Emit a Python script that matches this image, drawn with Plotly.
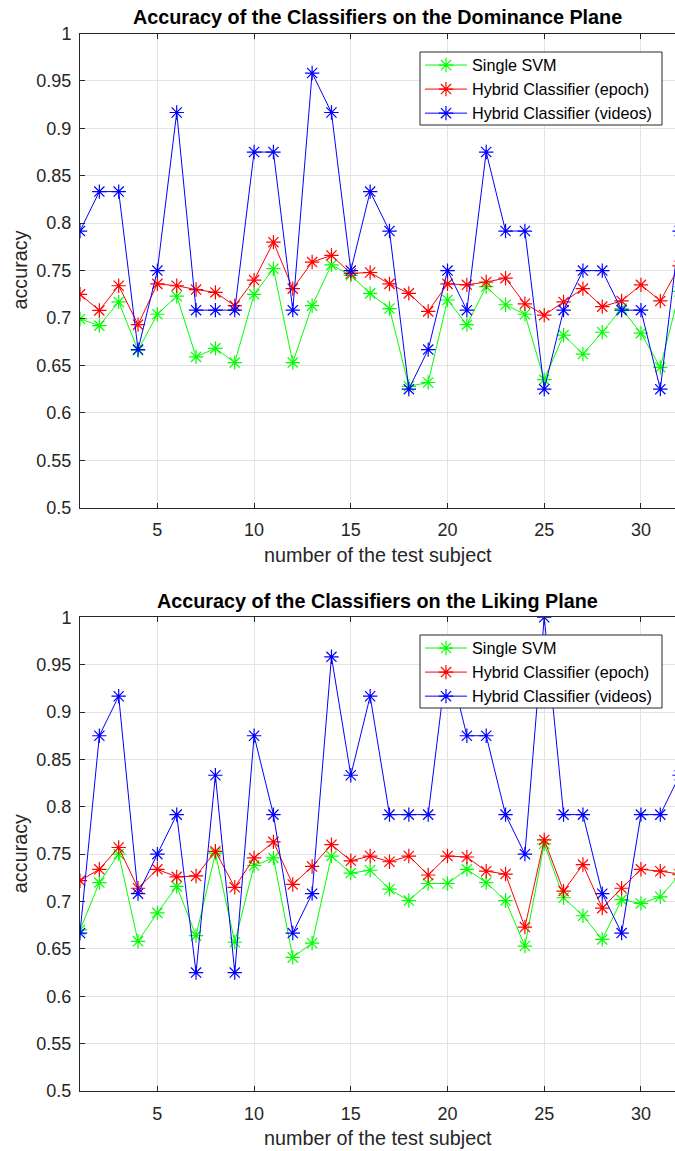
import plotly.graph_objects as go

subjects = list(range(1, 33))

dom_svm = [0.699, 0.692, 0.717, 0.666, 0.704, 0.723, 0.659, 0.668, 0.653, 0.725, 0.752, 0.653,
           0.713, 0.756, 0.745, 0.726, 0.710, 0.628, 0.632, 0.719, 0.693, 0.733, 0.714, 0.704,
           0.635, 0.682, 0.662, 0.685, 0.710, 0.684, 0.648, 0.728]
dom_epoch = [0.725, 0.708, 0.734, 0.693, 0.736, 0.734, 0.730, 0.727, 0.713, 0.740, 0.780, 0.731,
             0.759, 0.766, 0.747, 0.748, 0.736, 0.726, 0.707, 0.736, 0.735, 0.738, 0.742, 0.715,
             0.703, 0.717, 0.731, 0.712, 0.718, 0.735, 0.718, 0.755]
dom_videos = [0.7917, 0.8333, 0.8333, 0.6667, 0.75, 0.9167, 0.7083, 0.7083, 0.7083, 0.875, 0.875, 0.7083,
              0.9583, 0.9167, 0.75, 0.8333, 0.7917, 0.625, 0.6667, 0.75, 0.7083, 0.875, 0.7917, 0.7917,
              0.625, 0.7083, 0.75, 0.75, 0.7083, 0.7083, 0.625, 0.7917]

lik_svm = [0.670, 0.720, 0.750, 0.658, 0.688, 0.716, 0.664, 0.751, 0.657, 0.738, 0.746, 0.641,
           0.656, 0.748, 0.730, 0.733, 0.713, 0.701, 0.719, 0.719, 0.734, 0.720, 0.701, 0.653,
           0.761, 0.704, 0.685, 0.660, 0.702, 0.698, 0.705, 0.728]
lik_epoch = [0.722, 0.734, 0.757, 0.714, 0.734, 0.726, 0.727, 0.753, 0.715, 0.746, 0.763, 0.718,
             0.737, 0.760, 0.743, 0.748, 0.742, 0.748, 0.728, 0.748, 0.747, 0.732, 0.729, 0.673,
             0.765, 0.711, 0.739, 0.693, 0.714, 0.734, 0.732, 0.729]
lik_videos = [0.6667, 0.875, 0.9167, 0.7083, 0.75, 0.7917, 0.625, 0.8333, 0.625, 0.875, 0.7917, 0.6667,
              0.7083, 0.9583, 0.8333, 0.9167, 0.7917, 0.7917, 0.7917, 0.9583, 0.875, 0.875, 0.7917, 0.75,
              1.0, 0.7917, 0.7917, 0.7083, 0.6667, 0.7917, 0.7917, 0.8333]

series_names = ["Single SVM", "Hybrid Classifier (epoch)", "Hybrid Classifier (videos)"]
series_colors = ["#00FF00", "#FF0000", "#0000FF"]

titles = ["Accuracy of the Classifiers on the Dominance Plane",
          "Accuracy of the Classifiers on the Liking Plane"]
x_label = "number of the test subject"
y_label = "accuracy"
y_tickvals = [0.5, 0.55, 0.6, 0.65, 0.7, 0.75, 0.8, 0.85, 0.9, 0.95, 1.0]
y_ticktext = ["0.5", "0.55", "0.6", "0.65", "0.7", "0.75", "0.8", "0.85", "0.9", "0.95", "1"]
x_tickvals = [5, 10, 15, 20, 25, 30]

W, H = 675, 1151
L = 80
PW = W - L
FONT = "Liberation Sans, Arial, Helvetica, sans-serif"
AX = "#262626"

def px_x(px):
    return (px - L) / PW

def px_y(py):
    return 1 - py / H

fig = go.Figure()

panels = [
    (dict(x="x", y="y", legend="legend"), [dom_svm, dom_epoch, dom_videos]),
    (dict(x="x2", y="y2", legend="legend2"), [lik_svm, lik_epoch, lik_videos]),
]
for refs, data in panels:
    for name, col, vals in zip(series_names, series_colors, data):
        fig.add_trace(go.Scatter(
            x=subjects, y=vals, name=name, mode="lines+markers",
            xaxis=refs["x"], yaxis=refs["y"], legend=refs["legend"],
            line=dict(color=col, width=1),
            marker=dict(symbol="asterisk", size=12, color=col, line=dict(color=col, width=1.2)),
        ))

boxes = [(33.5, 507.7), (617.3, 1091.0)]
dom = [[px_y(b), px_y(t)] for t, b in boxes]

def xax(anchor):
    return dict(range=[1, 31.76], tickvals=x_tickvals, showgrid=True, gridcolor="#e3e3e3", gridwidth=1,
                zeroline=False, showline=True, linecolor=AX, linewidth=1, mirror="ticks",
                ticks="inside", ticklen=5, tickcolor=AX, anchor=anchor, domain=[0, 1], automargin=False,
                tickfont=dict(family=FONT, size=18, color=AX), ticklabelstandoff=6)

def yax(anchor, d):
    return dict(range=[0.5, 1], tickvals=y_tickvals, ticktext=y_ticktext, showgrid=True,
                gridcolor="#e3e3e3", gridwidth=1, zeroline=False, showline=True, linecolor=AX,
                linewidth=1, ticks="inside", ticklen=5, tickcolor=AX, anchor=anchor, domain=d,
                automargin=False,
                tickfont=dict(family=FONT, size=18, color=AX), ticklabelstandoff=4)

leg_common = dict(xanchor="left", yanchor="top", bgcolor="rgba(0,0,0,0)", borderwidth=0,
                  font=dict(family=FONT, size=16.2, color="black"), tracegroupgap=0,
                  itemwidth=42)

# legend frame positions (pixel) for the two panels: left, top, right, bottom
legend_frames = [(420, 52, 662, 125), (420, 635, 662, 708)]

ann = []
shapes = []
for i, (t, b) in enumerate(boxes):
    ann.append(dict(text="<b>%s</b>" % titles[i], x=px_x(377.5), y=px_y(t - 16), xref="paper", yref="paper",
                    xanchor="center", yanchor="middle", showarrow=False,
                    font=dict(family=FONT, size=19.8, color="black")))
    ann.append(dict(text=x_label, x=px_x(377.5), y=px_y(b + 47), xref="paper", yref="paper",
                    xanchor="center", yanchor="middle", showarrow=False,
                    font=dict(family=FONT, size=19.8, color=AX)))
    ann.append(dict(text=y_label, x=px_x(20), y=px_y((t + b) / 2), xref="paper", yref="paper",
                    xanchor="center", yanchor="middle", showarrow=False, textangle=-90,
                    font=dict(family=FONT, size=19.8, color=AX)))
    lx0, ly0, lx1, ly1 = legend_frames[i]
    shapes.append(dict(type="rect", xref="paper", yref="paper", layer="above",
                       x0=px_x(lx0), x1=px_x(lx1), y0=px_y(ly1), y1=px_y(ly0),
                       fillcolor="white", line=dict(color=AX, width=1)))

fig.update_layout(
    width=W, height=H,
    margin=dict(l=L, r=0, t=0, b=0, autoexpand=False),
    paper_bgcolor="white", plot_bgcolor="white",
    xaxis=xax("y"), yaxis=yax("x", dom[0]),
    xaxis2=xax("y2"), yaxis2=yax("x2", dom[1]),
    legend=dict(x=px_x(legend_frames[0][0]), y=px_y(legend_frames[0][1] - 4), **leg_common),
    legend2=dict(x=px_x(legend_frames[1][0]), y=px_y(legend_frames[1][1] - 4), **leg_common),
    annotations=ann,
    shapes=shapes,
    showlegend=True,
)

fig.write_html("out.html")
